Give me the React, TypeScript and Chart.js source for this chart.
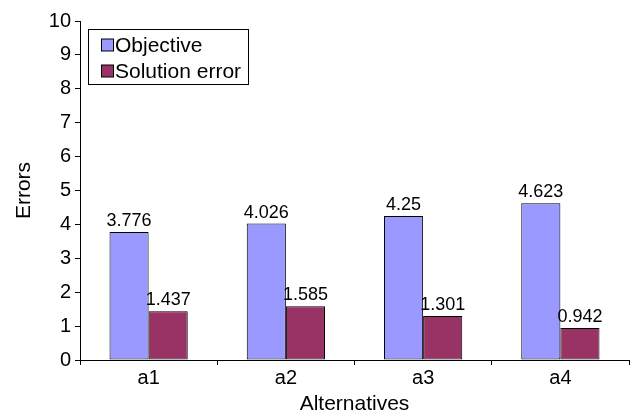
import { useEffect, useRef } from 'react'
import { Chart, registerables, ChartConfiguration, Plugin } from 'chart.js'

Chart.register(...registerables)

const categories = ['a1', 'a2', 'a3', 'a4']
const objective = [3.776, 4.026, 4.25, 4.623]
const solutionError = [1.437, 1.585, 1.301, 0.942]
const seriesNames = ['Objective', 'Solution error']
const seriesColors = ['#9999FF', '#993366']

const FONT = "'Liberation Sans', Arial, Helvetica, sans-serif"

// value labels above each bar
const valueLabels: Plugin<'bar'> = {
  id: 'valueLabels',
  afterDatasetsDraw(chart) {
    const ctx = chart.ctx
    ctx.save()
    ctx.font = `18px ${FONT}`
    ctx.fillStyle = '#000'
    ctx.textAlign = 'center'
    ctx.textBaseline = 'alphabetic'
    chart.data.datasets.forEach((ds, i) => {
      chart.getDatasetMeta(i).data.forEach((bar, j) => {
        const v = ds.data[j] as number
        ctx.fillText(String(v), bar.x, bar.y - 6)
      })
    })
    ctx.restore()
  },
}

// boxed legend in the top left of the plot
const boxLegend: Plugin<'bar'> = {
  id: 'boxLegend',
  afterDraw(chart) {
    const ctx = chart.ctx
    ctx.save()
    ctx.fillStyle = '#fff'
    ctx.fillRect(88.5, 29.5, 160, 55)
    ctx.strokeStyle = '#000'
    ctx.lineWidth = 1
    ctx.strokeRect(88.5, 29.5, 160, 55)
    ctx.font = `21px ${FONT}`
    ctx.textBaseline = 'alphabetic'
    seriesNames.forEach((name, i) => {
      const cy = 45 + i * 26
      ctx.fillStyle = seriesColors[i]
      ctx.fillRect(101.5, cy - 6, 12, 12)
      ctx.strokeRect(101.5, cy - 6, 12, 12)
      ctx.fillStyle = '#000'
      ctx.fillText(name, 115, cy + 7)
    })
    ctx.restore()
  },
}

export default function App() {
  const chartRef = useRef<HTMLCanvasElement>(null)
  const chartInstance = useRef<Chart | null>(null)

  useEffect(() => {
    if (!chartRef.current) return
    if (chartInstance.current) chartInstance.current.destroy()

    const config: ChartConfiguration<'bar'> = {
      type: 'bar',
      data: {
        labels: categories,
        datasets: [
          {
            label: seriesNames[0],
            data: objective,
            backgroundColor: seriesColors[0],
            borderColor: '#000',
            borderWidth: 1,
            borderSkipped: false,
            categoryPercentage: 0.57,
            barPercentage: 1,
          },
          {
            label: seriesNames[1],
            data: solutionError,
            backgroundColor: seriesColors[1],
            borderColor: '#000',
            borderWidth: 1,
            borderSkipped: false,
            categoryPercentage: 0.57,
            barPercentage: 1,
          },
        ],
      },
      options: {
        responsive: false,
        animation: false,
        layout: { padding: { top: 21, right: 3, bottom: 0, left: 0 } },
        plugins: {
          legend: { display: false },
          tooltip: { enabled: false },
        },
        scales: {
          x: {
            grid: { drawOnChartArea: false, tickLength: 5, color: '#000' },
            border: { color: '#000', width: 1 },
            ticks: { color: '#000', font: { family: FONT, size: 20 }, padding: 1 },
            title: {
              display: true,
              text: 'Alternatives',
              color: '#000',
              font: { family: FONT, size: 21, lineHeight: 1 },
              padding: 0,
            },
            afterFit: (s) => { s.height = 55 },
          },
          y: {
            min: 0,
            max: 10,
            grid: { drawOnChartArea: false, tickLength: 5, color: '#000' },
            border: { color: '#000', width: 1 },
            ticks: { stepSize: 1, color: '#000', font: { family: FONT, size: 20 }, padding: 4 },
            title: {
              display: true,
              text: 'Errors',
              color: '#000',
              font: { family: FONT, size: 21 },
              padding: { top: 12, bottom: 0 },
            },
            afterFit: (s) => { s.width = 80 },
          },
        },
      },
      plugins: [valueLabels, boxLegend],
    }

    chartInstance.current = new Chart(chartRef.current, config)
    return () => {
      chartInstance.current?.destroy()
      chartInstance.current = null
    }
  }, [])

  return (
    <div style={{ position: 'absolute', left: 0, top: 0, width: 632, height: 415, background: '#fff' }}>
      <canvas ref={chartRef} width={632} height={415} />
    </div>
  )
}
